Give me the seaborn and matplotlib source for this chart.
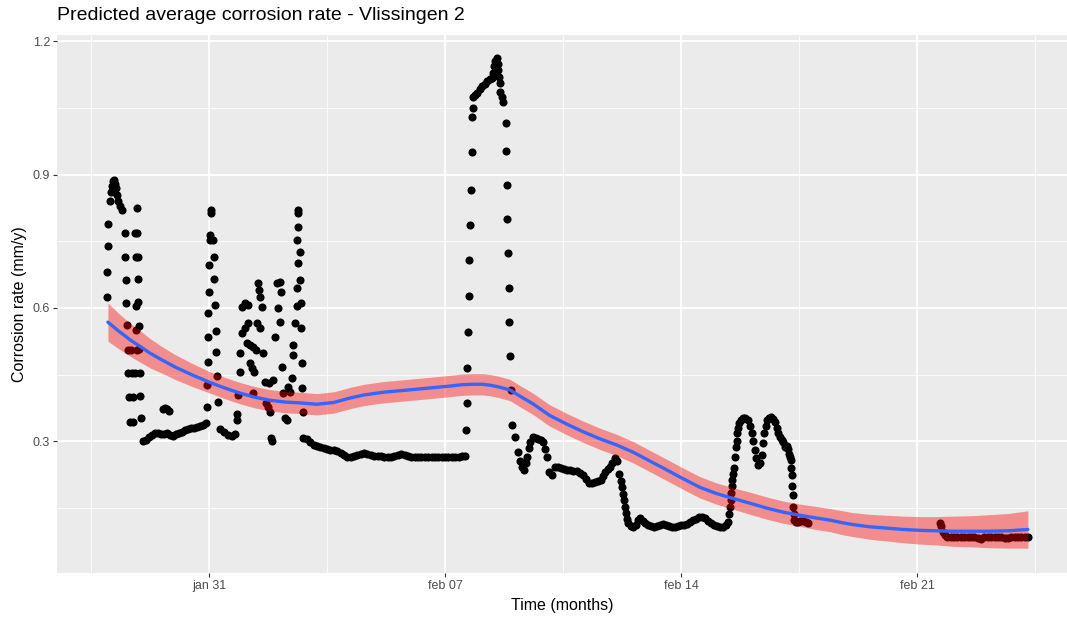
import matplotlib
matplotlib.use("Agg")
import matplotlib.pyplot as plt
import numpy as np
import pandas as pd
import seaborn as sns

# Time axis: days since 31 January 00:00
tick_days = [0, 7, 14, 21]
tick_labels = ["jan 31", "feb 07", "feb 14", "feb 21"]
rate_ticks = [0.3, 0.6, 0.9, 1.2]

# 28-29 January: first burst of readings
burst1_days = [-3.03, -3.02, -3.01, -3.00, -2.95, -2.92, -2.89, -2.86, -2.83, -2.80, -2.77, -2.74, -2.70, -2.64, -2.58,
               -2.49, -2.48, -2.46, -2.45, -2.43, -2.41, -2.39, -2.37, -2.35,
               -2.31, -2.29, -2.27, -2.25,
               -2.14, -2.13, -2.12, -2.11, -2.10, -2.09, -2.08, -2.06, -2.04, -2.02,
               -2.19, -2.18, -2.17, -2.16, -2.15, -2.20]
burst1_rate = [0.625, 0.680, 0.740, 0.790, 0.840, 0.860, 0.875, 0.885, 0.888, 0.880, 0.870, 0.855, 0.840, 0.830, 0.820,
               0.769, 0.715, 0.663, 0.611, 0.562, 0.505, 0.453, 0.399, 0.343,
               0.506, 0.454, 0.400, 0.344,
               0.826, 0.769, 0.715, 0.665, 0.614, 0.559, 0.507, 0.453, 0.401, 0.352,
               0.769, 0.715, 0.604, 0.551, 0.506, 0.454]

# 29-30 January: low plateau and a small cluster
plateau1_days = [-1.96, -1.87, -1.78, -1.69, -1.60, -1.51, -1.42, -1.33, -1.25, -1.16, -1.07, -0.98, -0.89, -0.80,
                 -0.71, -0.62, -0.53, -0.45, -0.36, -0.27, -0.18, -0.09,
                 -1.38, -1.32, -1.26, -1.20]
plateau1_rate = [0.300, 0.303, 0.309, 0.313, 0.318, 0.318, 0.316, 0.315, 0.318, 0.313, 0.311, 0.316, 0.318, 0.320,
                 0.325, 0.328, 0.330, 0.330, 0.332, 0.333, 0.336, 0.340,
                 0.372, 0.375, 0.372, 0.368]

# 31 January: sharp spike and following readings
spike1_days = [-0.06, -0.05, -0.04, -0.03, -0.02, -0.01, 0.00, 0.02, 0.03, 0.05, 0.07,
               0.12, 0.14, 0.16, 0.18, 0.20, 0.22, 0.25, 0.27,
               0.33, 0.45, 0.57, 0.69, 0.78]
spike1_rate = [0.377, 0.426, 0.478, 0.535, 0.589, 0.636, 0.697, 0.753, 0.765, 0.814, 0.821,
               0.753, 0.715, 0.665, 0.607, 0.548, 0.501, 0.447, 0.388,
               0.327, 0.320, 0.313, 0.311, 0.316]

# 1-3 February: scattered, jumpy readings
scatter_days = [0.83, 0.84, 0.86, 0.92, 0.93, 0.98, 1.07, 1.16, 0.99, 1.07, 1.15, 1.13, 1.22, 1.31, 1.39,
                1.22, 1.28, 1.32, 1.31, 1.42, 1.51, 1.45, 1.48, 1.51, 1.57, 1.60, 1.66, 1.69, 1.75, 1.81,
                1.84, 1.90, 1.96, 2.02, 2.11, 2.05, 2.11, 2.17, 2.19, 2.25, 2.31, 2.34, 2.40, 2.46, 2.49,
                2.50, 2.55, 2.61, 2.63, 2.61, 2.64, 2.64, 2.65, 2.70, 2.70, 2.73, 2.73, 2.76, 2.76, 2.79,
                2.12, 2.60, 1.78, 1.86]
scatter_rate = [0.361, 0.347, 0.404, 0.456, 0.498, 0.602, 0.611, 0.607, 0.544, 0.555, 0.566, 0.521, 0.517, 0.512, 0.505,
                0.476, 0.465, 0.456, 0.408, 0.566, 0.555, 0.656, 0.641, 0.625, 0.602, 0.498, 0.433, 0.386, 0.377, 0.365,
                0.307, 0.438, 0.535, 0.656, 0.659, 0.600, 0.568, 0.467, 0.408, 0.352, 0.347, 0.422, 0.410, 0.442, 0.517,
                0.494, 0.566, 0.645, 0.701, 0.753, 0.783, 0.814, 0.821, 0.726, 0.663, 0.611, 0.555, 0.476, 0.420, 0.365,
                0.636, 0.604, 0.430, 0.300]

# 3-8 February: slow decline to a flat level
plateau2_days = [2.8, 2.9, 3.0, 3.1, 3.2, 3.3, 3.4, 3.5, 3.6, 3.7, 3.8, 3.9, 4.0, 4.1, 4.2, 4.3, 4.4, 4.5, 4.6, 4.7,
                 4.8, 4.9, 5.0, 5.1, 5.2, 5.3, 5.4, 5.5, 5.6, 5.7, 5.8, 5.9, 6.0, 6.1, 6.2, 6.3, 6.4, 6.5, 6.6, 6.7,
                 6.8, 6.9, 7.0, 7.1, 7.2, 7.3, 7.4, 7.5, 7.58]
plateau2_rate = [0.307, 0.305, 0.298, 0.292, 0.289, 0.286, 0.284, 0.283, 0.281, 0.280, 0.278, 0.274, 0.268, 0.264,
                 0.264, 0.266, 0.269, 0.272, 0.273, 0.271, 0.268, 0.266, 0.266, 0.266, 0.265, 0.264, 0.265, 0.267,
                 0.269, 0.270, 0.268, 0.266, 0.265, 0.265, 0.264, 0.264, 0.264, 0.264, 0.264, 0.264, 0.264, 0.264,
                 0.264, 0.264, 0.264, 0.264, 0.265, 0.266, 0.266]

# 8-9 February: the largest excursion
spike2_days = [7.62, 7.65, 7.66, 7.68, 7.70, 7.72, 7.74, 7.77, 7.80, 7.81, 7.83, 7.84,
               7.89, 7.95, 8.04, 8.10, 8.19, 8.25, 8.33, 8.39, 8.42, 8.45, 8.48, 8.54, 8.57, 8.58, 8.60, 8.63,
               8.64, 8.69, 8.72,
               8.81, 8.82, 8.84, 8.85, 8.87, 8.89, 8.90, 8.92, 8.95]
spike2_rate = [0.325, 0.385, 0.465, 0.545, 0.627, 0.708, 0.787, 0.866, 0.952, 1.031, 1.051, 1.074,
               1.080, 1.085, 1.092, 1.099, 1.105, 1.110, 1.115, 1.118, 1.130, 1.145, 1.155, 1.163, 1.150, 1.135,
               1.120, 1.107, 1.087, 1.074, 1.063,
               1.017, 0.954, 0.877, 0.800, 0.724, 0.645, 0.568, 0.492, 0.415]

# 9-15 February: step down to the lowest level
decline_days = [8.99, 9.08, 9.17, 9.22, 9.28, 9.34, 9.40, 9.43, 9.49, 9.52, 9.61, 9.70, 9.76, 9.85, 9.91, 9.97,
                10.03, 10.08, 10.17, 10.26, 10.35, 10.44, 10.53, 10.62, 10.71, 10.80, 10.92, 11.00, 11.09, 11.18,
                11.27, 11.36, 11.45, 11.54, 11.63, 11.69, 11.75, 11.83, 11.89, 11.95, 12.04, 12.10, 12.16, 12.22,
                12.25, 12.28, 12.31, 12.34, 12.37, 12.40, 12.43, 12.52, 12.58, 12.67, 12.73, 12.78, 12.87, 12.93,
                13.02, 13.11, 13.20, 13.29, 13.38, 13.47, 13.55, 13.64, 13.73, 13.82, 13.91, 14.00, 14.09, 14.18,
                14.27, 14.36, 14.45, 14.53, 14.62, 14.71, 14.80, 14.89, 14.98, 15.07, 15.16, 15.25, 15.33, 15.39]
decline_rate = [0.336, 0.309, 0.275, 0.255, 0.241, 0.235, 0.250, 0.264, 0.285, 0.298, 0.309, 0.307, 0.305, 0.302,
                0.298, 0.282, 0.264, 0.230, 0.223, 0.241, 0.241, 0.240, 0.237, 0.235, 0.234, 0.233, 0.232, 0.228,
                0.223, 0.214, 0.205, 0.206, 0.208, 0.210, 0.213, 0.222, 0.230, 0.238, 0.241, 0.250, 0.262, 0.255,
                0.227, 0.210, 0.196, 0.180, 0.167, 0.152, 0.138, 0.125, 0.115, 0.108, 0.106, 0.112, 0.122, 0.126,
                0.120, 0.115, 0.110, 0.108, 0.106, 0.108, 0.110, 0.113, 0.110, 0.108, 0.106, 0.106, 0.108, 0.110,
                0.111, 0.113, 0.117, 0.122, 0.125, 0.128, 0.129, 0.126, 0.120, 0.116, 0.112, 0.108, 0.106, 0.106,
                0.110, 0.117]

# 15-17 February: double peak
double_days = [15.42, 15.45, 15.48, 15.49, 15.51, 15.52, 15.54, 15.57, 15.60, 15.63, 15.66, 15.66, 15.69, 15.72,
               15.78, 15.84, 15.90, 15.99, 16.05, 16.11, 16.14, 16.20, 16.22, 16.28, 16.34, 16.40, 16.43, 16.46,
               16.52, 16.55, 16.61, 16.67, 16.73, 16.79, 16.85, 16.87, 16.93, 16.99, 17.03, 17.09, 17.14, 17.17,
               17.20, 17.23, 17.26, 17.27, 17.29, 17.30, 17.31, 17.32, 17.35, 17.36, 17.41, 17.47, 17.53, 17.62,
               17.71, 17.77]
double_rate = [0.135, 0.151, 0.168, 0.183, 0.198, 0.212, 0.225, 0.239, 0.264, 0.286, 0.300, 0.318, 0.330, 0.340,
               0.348, 0.352, 0.352, 0.347, 0.335, 0.318, 0.300, 0.280, 0.262, 0.246, 0.250, 0.268, 0.295, 0.318,
               0.335, 0.347, 0.352, 0.354, 0.350, 0.343, 0.330, 0.318, 0.310, 0.302, 0.298, 0.286, 0.288, 0.282,
               0.272, 0.265, 0.257, 0.240, 0.223, 0.200, 0.178, 0.151, 0.135, 0.122, 0.118, 0.117, 0.120, 0.120,
               0.117, 0.115]

# 21-24 February: last stretch
tail_days = [21.68, 21.71, 21.77, 21.83, 21.89, 22.0, 22.1, 22.2, 22.3, 22.4, 22.5, 22.6, 22.7, 22.8, 22.9, 23.0,
             23.1, 23.2, 23.3, 23.4, 23.5, 23.6, 23.7, 23.8, 23.9, 24.0, 24.1, 24.2, 24.29]
tail_rate = [0.115, 0.108, 0.095, 0.088, 0.084, 0.084, 0.084, 0.085, 0.084, 0.084, 0.083, 0.083, 0.083, 0.081,
             0.080, 0.083, 0.084, 0.084, 0.085, 0.084, 0.083, 0.082, 0.081, 0.083, 0.084, 0.084, 0.085, 0.085, 0.084]

# Smoothed average rate with its confidence half-width
fit_days = [-3.0, -2.7, -2.34, -2.0, -1.75, -1.4, -1.01, -0.5, 0.0, 0.45, 0.92, 1.35, 1.81, 2.25, 2.70, 3.2,
            3.7, 4.18, 4.6, 5.16, 6.17, 7.15, 7.5, 7.83, 8.1, 8.33, 8.6, 8.93, 9.25, 9.61, 10.1, 10.62, 11.1,
            11.6, 12.1, 12.58, 13.08, 13.58, 14.07, 14.56, 15.05, 15.54, 16.05, 16.55, 17.03, 17.53, 18.0,
            18.42, 18.8, 19.1, 19.6, 20.11, 20.6, 21.09, 21.6, 22.07, 22.6, 23.08, 23.7, 24.29]
fit_rate = [0.568, 0.549, 0.528, 0.511, 0.498, 0.483, 0.467, 0.449, 0.433, 0.420, 0.408, 0.399, 0.392, 0.388,
            0.386, 0.383, 0.387, 0.397, 0.404, 0.410, 0.417, 0.424, 0.427, 0.428, 0.428, 0.426, 0.422, 0.415,
            0.400, 0.384, 0.358, 0.338, 0.321, 0.305, 0.291, 0.275, 0.255, 0.235, 0.215, 0.196, 0.182, 0.171,
            0.160, 0.149, 0.140, 0.133, 0.127, 0.122, 0.116, 0.112, 0.107, 0.104, 0.101, 0.099, 0.098, 0.097,
            0.097, 0.097, 0.098, 0.101]
fit_halfwidth = [0.043, 0.040, 0.037, 0.035, 0.033, 0.030, 0.028, 0.026, 0.024, 0.024, 0.024, 0.024, 0.024,
                 0.024, 0.024, 0.024, 0.024, 0.024, 0.024, 0.024, 0.024, 0.024, 0.024, 0.024, 0.024, 0.024,
                 0.024, 0.024, 0.024, 0.024, 0.024, 0.024, 0.024, 0.024, 0.024, 0.024, 0.024, 0.024, 0.024,
                 0.024, 0.024, 0.024, 0.025, 0.025, 0.025, 0.025, 0.026, 0.026, 0.027, 0.027, 0.028, 0.029,
                 0.030, 0.031, 0.032, 0.034, 0.035, 0.037, 0.039, 0.042]

obs = pd.DataFrame({
    "day": burst1_days + plateau1_days + spike1_days + scatter_days + plateau2_days
           + spike2_days + decline_days + double_days + tail_days,
    "rate": burst1_rate + plateau1_rate + spike1_rate + scatter_rate + plateau2_rate
            + spike2_rate + decline_rate + double_rate + tail_rate,
})
fit = pd.DataFrame({"day": fit_days, "rate": fit_rate, "half": fit_halfwidth})

sns.set_theme(style="darkgrid")
plt.rcParams["font.family"] = ["Liberation Sans", "DejaVu Sans"]

W, H = 1067, 617
fig = plt.figure(figsize=(W / 100, H / 100), dpi=100)
left, right, top, bottom = 57, 1067, 35, 573.3
ax = fig.add_axes([left / W, 1 - bottom / H, (right - left) / W, (bottom - top) / H])
ax.set_facecolor("#EBEBEB")
fig.patch.set_facecolor("white")

sns.scatterplot(data=obs, x="day", y="rate", color="black", s=34, linewidth=0, ax=ax, zorder=3)
ax.fill_between(fit["day"], fit["rate"] - fit["half"], fit["rate"] + fit["half"],
                color="red", alpha=0.4, linewidth=0, zorder=4)
sns.lineplot(data=fit, x="day", y="rate", color="#3366FF", linewidth=2.4, ax=ax, zorder=5)

ax.set_xlim(-4.51, 25.45)
ax.set_ylim(0.0023, 1.2146)

ax.set_xticks(tick_days)
ax.set_xticklabels(tick_labels)
ax.set_xticks([-3.5, 3.5, 10.5, 17.5, 24.5], minor=True)
ax.set_yticks(rate_ticks)
ax.set_yticklabels([f"{v:.1f}" for v in rate_ticks])
ax.set_yticks([0.15, 0.45, 0.75, 1.05], minor=True)

ax.grid(which="major", color="white", linewidth=1.3)
ax.grid(which="minor", color="white", linewidth=0.6)
ax.set_axisbelow(True)
for s in ax.spines.values():
    s.set_visible(False)
ax.tick_params(which="major", length=3, width=0.8, color="#333333", labelcolor="#4D4D4D",
               labelsize=9, pad=2)
ax.tick_params(which="minor", length=0)
ax.tick_params(axis="x", bottom=True)
ax.tick_params(axis="y", left=True)

ax.set_xlabel("Time (months)", fontsize=11.5, color="black", labelpad=4)
ax.set_ylabel("Corrosion rate (mm/y)", fontsize=11.5, color="black", labelpad=4)
fig.text(left / W, 1 - 15 / H, "Predicted average corrosion rate - Vlissingen 2",
         fontsize=14, color="black", ha="left", va="center")

fig.savefig("out.png", dpi=100)
